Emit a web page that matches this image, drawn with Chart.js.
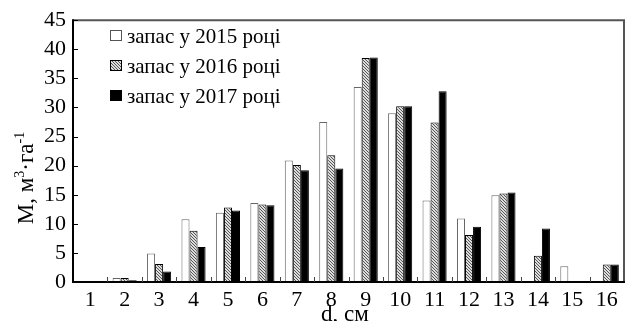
<!DOCTYPE html>
<html>
<head>
<meta charset="utf-8">
<script src="https://cdn.jsdelivr.net/npm/chart.js@4.4.1/dist/chart.umd.min.js"></script>
<style>
html,body{margin:0;padding:0;background:#fff;}
#wrap{width:626px;height:321px;position:relative;}
</style>
</head>
<body>
<div id="wrap"><canvas id="c" width="626" height="321"></canvas></div>
<script>
const categories = ['1','2','3','4','5','6','7','8','9','10','11','12','13','14','15','16'];
const stock2015 = [0,0.7,4.9,10.8,11.9,13.6,20.9,27.5,33.5,29.0,14.0,10.9,14.9,0,2.7,0];
const stock2016 = [0,0.7,3.1,8.8,12.8,13.3,20.1,21.8,38.5,30.2,27.4,8.1,15.2,4.5,0,3.0];
const stock2017 = [0,0.3,1.8,6.0,12.3,13.2,19.2,19.5,38.6,30.2,32.8,9.5,15.4,9.2,0,3.0];
const seriesLabels = ['запас у 2015 році','запас у 2016 році','запас у 2017 році'];
const yTicks = [0,5,10,15,20,25,30,35,40,45];
const xTitle = 'd, см';

const FONT = '"Liberation Serif","Times New Roman",serif';

function makeHatch(){
  const p = document.createElement('canvas');
  p.width = 3; p.height = 3;
  const g = p.getContext('2d');
  g.fillStyle = '#ddd'; g.fillRect(0,0,3,3);
  g.fillStyle = '#555';
  g.fillRect(0,0,1,1); g.fillRect(1,1,1,1); g.fillRect(2,2,1,1);
  return document.getElementById('c').getContext('2d').createPattern(p,'repeat');
}
const hatch = makeHatch();

const deco = {
  id:'deco',
  afterDraw(chart){
    const ctx = chart.ctx;
    const a = chart.chartArea;
    const ys = chart.scales.y;
    ctx.save();
    ctx.strokeStyle = '#555'; ctx.lineWidth = 2;
    ctx.beginPath();
    ctx.moveTo(a.left, a.top); ctx.lineTo(a.right, a.top); ctx.lineTo(a.right, a.bottom);
    ctx.stroke();
    ctx.strokeStyle = '#000'; ctx.lineWidth = 2;
    ctx.beginPath();
    ctx.moveTo(a.left, a.top-1); ctx.lineTo(a.left, a.bottom); ctx.lineTo(a.right+1, a.bottom);
    ctx.stroke();
    ctx.lineWidth = 1;
    yTicks.forEach(v=>{
      const y = Math.round(ys.getPixelForValue(v))+0.5;
      ctx.beginPath(); ctx.moveTo(a.left, y); ctx.lineTo(a.left+5, y); ctx.stroke();
    });
    ctx.strokeStyle = '#444';
    const w = (a.right - a.left)/categories.length;
    for(let i=1;i<categories.length;i++){
      const x = Math.round(a.left + i*w)+0.5;
      ctx.beginPath(); ctx.moveTo(x, a.bottom); ctx.lineTo(x, a.bottom-5); ctx.stroke();
    }
    const ds = chart.data.datasets;
    ctx.font = '21px ' + FONT;
    ctx.textBaseline = 'middle';
    ds.forEach((d,i)=>{
      const cy = 36 + i*30;
      const bx = 110, by = cy-6, bw = 12, bh = 11;
      ctx.fillStyle = d.backgroundColor;
      ctx.fillRect(bx,by,bw,bh);
      ctx.strokeStyle = i===0 ? '#555' : '#000';
      ctx.lineWidth = 1;
      ctx.strokeRect(bx+0.5,by+0.5,bw-1,bh-1);
      ctx.fillStyle = '#000';
      ctx.textAlign = 'left';
      ctx.fillText(d.label, 127, cy+1);
    });
    const parts = [['М, м',23,0],['3',14,-9],['·га',23,0],['-1',14,-9]];
    let total = 0;
    parts.forEach(p=>{ctx.font = p[1]+'px '+FONT; total += ctx.measureText(p[0]).width;});
    ctx.translate(33, 178);
    ctx.rotate(-Math.PI/2);
    ctx.textBaseline = 'alphabetic';
    ctx.textAlign = 'left';
    let x = -total/2;
    parts.forEach(p=>{
      ctx.font = p[1]+'px '+FONT;
      ctx.fillText(p[0], x, p[2]);
      x += ctx.measureText(p[0]).width;
    });
    ctx.setTransform(1,0,0,1,0,0);
    ctx.font = '23px ' + FONT;
    ctx.textAlign = 'center';
    ctx.textBaseline = 'alphabetic';
    ctx.fillText(xTitle, 345, 321);
    ctx.restore();
  }
};

new Chart(document.getElementById('c'), {
  type:'bar',
  data:{
    labels: categories,
    datasets:[
      {label:seriesLabels[0], data:stock2015, backgroundColor:'#fff', borderColor:'#666', borderWidth:1, borderSkipped:'bottom'},
      {label:seriesLabels[1], data:stock2016, backgroundColor:hatch, borderColor:'#000', borderWidth:1, borderSkipped:'bottom'},
      {label:seriesLabels[2], data:stock2017, backgroundColor:'#000', borderColor:'#000', borderWidth:1, borderSkipped:'bottom'}
    ]
  },
  options:{
    responsive:false,
    animation:false,
    devicePixelRatio:1,
    layout:{padding:{top:13,right:2,left:0,bottom:0}},
    categoryPercentage:0.7,
    barPercentage:1.0,
    plugins:{legend:{display:false}, tooltip:{enabled:false}, title:{display:false}},
    scales:{
      x:{
        grid:{display:false, drawTicks:false},
        border:{display:false},
        ticks:{color:'#000', font:{family:FONT, size:22}, padding:5, maxRotation:0, autoSkip:false},
        afterFit(s){ s.height = 39; }
      },
      y:{
        min:0, max:45,
        afterBuildTicks(s){ s.ticks = yTicks.map(v=>({value:v})); },
        grid:{display:false, drawTicks:false},
        border:{display:false},
        ticks:{color:'#000', font:{family:FONT, size:22}, padding:7, autoSkip:false},
        afterFit(s){ s.width = 73; }
      }
    }
  },
  plugins:[deco]
});
</script>
</body>
</html>
